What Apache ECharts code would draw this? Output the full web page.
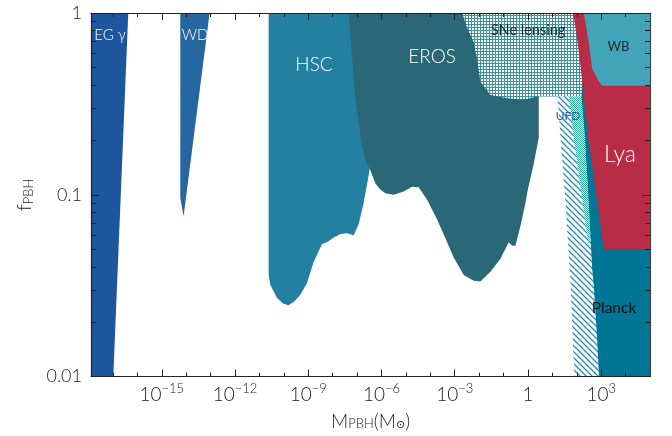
<!DOCTYPE html>
<html><head><meta charset="utf-8">
<script src="https://cdn.jsdelivr.net/npm/echarts@6/dist/echarts.min.js"></script>
<style>html,body{margin:0;padding:0;background:#fff}#c{width:672px;height:436px}</style>
</head><body><div id="c"></div>
<script>
// ---------- axis ranges and ticks (real units) ----------
const X_MIN = 1.26e-18, X_MAX = 1e5;
const Y_MIN = 0.01, Y_MAX = 1;
const xMajorTicks = [1e-15, 1e-12, 1e-9, 1e-6, 1e-3, 1, 1e3];
const xTickLabels = ['10^−15', '10^−12', '10^−9', '10^−6', '10^−3', '1', '10^3'];
const xMinorTicks = [1e-17, 1e-16, 1e-14, 1e-13, 1e-11, 1e-10, 1e-8, 1e-7, 1e-5, 1e-4, 1e-2, 1e-1, 10, 100, 1e4];
const yMajorTicks = [0.01, 0.1, 1];
const yTickLabels = ['0.01', '0.1', '1'];
const yMinorTicks = [0.02,0.03,0.04,0.05,0.06,0.07,0.08,0.09,0.2,0.3,0.4,0.5,0.6,0.7,0.8,0.9];

// ---------- constraint regions: [M_PBH (Msun), f_PBH] vertices ----------
const egGamma = [[1.26e-18,1],[4.24e-17,1],[1.03e-17,0.01],[1.26e-18,0.01]];
const whiteDwarf = [[5.73e-15,1],[9.1e-14,1],[7.82e-15,0.0763],[5.73e-15,0.0959]];
const hsc = [[2.38e-11,1],[2.38e-11,0.0362],[2.8e-11,0.0319],[5.26e-11,0.0271],[9.55e-11,0.0252],
  [1.57e-10,0.0247],[2.69e-10,0.0259],[4.74e-10,0.0282],[8.93e-10,0.0327],[1.66e-9,0.0427],
  [3.68e-9,0.0537],[5.89e-9,0.0548],[1.07e-8,0.058],[2.07e-8,0.0608],[3.89e-8,0.0615],
  [7.26e-8,0.06],[1.16e-7,0.0689],[1.86e-7,0.0901],[2.99e-7,0.128],[4.65e-7,0.182],[4.65e-7,1]];
const eros = [[4.53e-8,1],[5.84e-8,0.633],[8.51e-8,0.34],[1.6e-7,0.1824],[2.41e-7,0.1514],
  [3.51e-7,0.1365],[5.62e-7,0.1155],[9.02e-7,0.1068],[1.45e-6,0.102],[3.16e-6,0.1],
  [8.13e-6,0.1042],[1.8e-5,0.1109],[3.35e-5,0.11],[7.4e-5,0.0939],[1.9e-4,0.0732],
  [4.89e-4,0.0548],[9.1e-4,0.0452],[2.34e-3,0.0362],[6.01e-3,0.0337],[0.0113,0.0333],
  [0.029,0.0377],[0.0746,0.0445],[0.163,0.0548],[0.225,0.0525],[0.307,0.0525],[0.493,0.0674],
  [0.79,0.0901],[0.982,0.1064],[1.73,0.148],[2.77,0.2066],[2.77,0.347],[2.77,1]];
const sneLensing = [[2.01e-3,1],[3.22e-3,0.83],[6.01e-3,0.688],[8.28e-3,0.559],[0.0113,0.418],
  [0.029,0.354],[0.141,0.34],[0.673,0.333],[2.38,0.347],[364,0.347],[364,1]];
const ufd = [[16.2,0.347],[250,0.347],[813,0.01],[80.5,0.01],[64.8,0.0194],[55.2,0.0337],
  [34.4,0.0901],[21.5,0.2066]];
const dotted = [[47,0.347],[188,0.347],[364,0.0618],[302,0.0525],[142,0.111],[75.3,0.2066]];
const planck = [[207,1],[1e5,1],[1e5,0.01],[813,0.01],[686,0.01577],[498,0.0319],[428,0.0393],
  [310,0.0901],[217,0.2066],[156,0.347]];
const lya = [[71.1,1],[1e5,1],[1e5,0.0504],[1280,0.0504],[798,0.0795],[498,0.1256],[310,0.194],
  [194,0.34],[142,0.5145],[104,0.717]];
const wideBinaries = [[194,1],[1e5,1],[1e5,0.398],[1099,0.398],[686,0.436],[428,0.494],[364,0.583],[267,0.78]];

// ---------- styling ----------
const FONT = "Lato, 'Noto Sans', 'DejaVu Sans', sans-serif";
const FW = 300;
const L = Math.log10;

function makePattern(size, draw) {
  const c = document.createElement('canvas');
  c.width = size; c.height = size;
  const g = c.getContext('2d');
  g.fillStyle = '#fff'; g.fillRect(0, 0, size, size);
  draw(g);
  return { image: c, repeat: 'repeat' };
}
const gridPattern = makePattern(3, g => { g.fillStyle = 'rgb(60,145,155)'; g.fillRect(0,0,3,1); g.fillRect(0,0,1,3); });
const hatchPattern = makePattern(6, g => {
  g.strokeStyle = 'rgb(40,140,180)'; g.lineWidth = 1.3;
  g.beginPath(); g.moveTo(-1,-1); g.lineTo(7,7); g.moveTo(-1,5); g.lineTo(1,7); g.moveTo(5,-1); g.lineTo(7,1); g.stroke();
});
const dotPattern = makePattern(2, g => { g.fillStyle = 'rgb(40,175,150)'; g.fillRect(0,0,1,1); g.fillRect(1,1,1,1); });

function region(pts, fill) {
  const lp = pts.map(p => [L(p[0]), L(p[1])]);
  return {
    type: 'custom', coordinateSystem: 'cartesian2d', xAxisIndex: 0, yAxisIndex: 0,
    silent: true, animation: false, z: 2, data: [lp[0]],
    renderItem: (params, api) => ({
      type: 'polygon',
      shape: { points: lp.map(q => api.coord(q)) },
      style: { fill: fill, stroke: null }
    })
  };
}

const tickColor = '#222';
function xLabel(v) {
  const i = xMajorTicks.findIndex(t => Math.abs(L(t) - v) < 1e-6);
  if (i < 0) return '';
  const s = xTickLabels[i];
  if (s.indexOf('^') < 0) return '{b|' + s + '}';
  const parts = s.split('^');
  return '{b|' + parts[0] + '}{s|' + parts[1] + '}';
}
function yLabel(v) {
  const i = yMajorTicks.findIndex(t => Math.abs(L(t) - v) < 1e-6);
  return i < 0 ? '' : yTickLabels[i];
}
const hidden = { show: false, onZero: false };
const xr = { type: 'value', z: 20, min: L(X_MIN), max: L(X_MAX), splitLine: { show: false },
  axisLine: hidden, axisTick: { show: false }, axisLabel: { show: false } };
const yr = { type: 'value', z: 20, min: L(Y_MIN), max: L(Y_MAX), splitLine: { show: false },
  axisLine: hidden, axisTick: { show: false }, axisLabel: { show: false } };
const lineSt = { color: tickColor, width: 1.2 };
const tickSt = { color: tickColor, width: 1 };

const option = {
  animation: false,
  grid: { left: 91, top: 13, width: 559, height: 370, containLabel: false },
  xAxis: [
    Object.assign({}, xr, {
      position: 'bottom',
      axisLine: { show: true, onZero: false, lineStyle: lineSt },
      axisTick: { show: true, inside: true, length: 7, customValues: xMajorTicks.map(L), lineStyle: tickSt },
      axisLabel: { show: true, customValues: xMajorTicks.map(L), formatter: xLabel, margin: 6,
        rich: { b: { fontSize: 19, fontFamily: FONT, fontWeight: FW, color: tickColor, lineHeight: 24 },
                s: { fontSize: 13, fontFamily: FONT, fontWeight: FW, color: tickColor, lineHeight: 12, padding: [0, 0, 12, 0] } } },
      name: '{m|M}{s|PBH}{m|(M}{o|⊙}{m|)}', nameLocation: 'middle', nameGap: 28,
      nameTextStyle: { rich: {
        m: { fontSize: 19, fontFamily: FONT, fontWeight: FW, color: tickColor },
        s: { fontSize: 13, fontFamily: FONT, fontWeight: FW, color: tickColor, padding: [5, 0, 0, 0] },
        o: { fontSize: 11, fontFamily: "'DejaVu Sans', sans-serif", color: tickColor, padding: [7, 0, 0, 0] } } }
    }),
    Object.assign({}, xr, { position: 'bottom',
      axisTick: { show: true, inside: true, length: 4, customValues: xMinorTicks.map(L), lineStyle: tickSt } }),
    Object.assign({}, xr, { position: 'top',
      axisLine: { show: true, onZero: false, lineStyle: lineSt },
      axisTick: { show: true, inside: true, length: 7, customValues: xMajorTicks.map(L), lineStyle: tickSt } }),
    Object.assign({}, xr, { position: 'top',
      axisTick: { show: true, inside: true, length: 4, customValues: xMinorTicks.map(L), lineStyle: tickSt } })
  ],
  yAxis: [
    Object.assign({}, yr, {
      position: 'left',
      axisLine: { show: true, onZero: false, lineStyle: lineSt },
      axisTick: { show: true, inside: true, length: 8, customValues: yMajorTicks.map(L), lineStyle: tickSt },
      axisLabel: { show: true, customValues: yMajorTicks.map(L), formatter: yLabel, margin: 9,
        fontSize: 18, fontFamily: FONT, fontWeight: FW, color: tickColor },
      name: '{f|f}{s|PBH}', nameLocation: 'middle', nameGap: 56, nameRotate: 90,
      nameTextStyle: { rich: {
        f: { fontSize: 20, fontFamily: FONT, fontWeight: FW, color: tickColor },
        s: { fontSize: 13, fontFamily: FONT, fontWeight: FW, color: tickColor, padding: [8, 0, 0, 0] } } }
    }),
    Object.assign({}, yr, { position: 'left',
      axisTick: { show: true, inside: true, length: 5, customValues: yMinorTicks.map(L), lineStyle: tickSt } }),
    Object.assign({}, yr, { position: 'right',
      axisLine: { show: true, onZero: false, lineStyle: { color: '#444', width: 1.2 } },
      axisTick: { show: true, inside: true, length: 8, customValues: yMajorTicks.map(L), lineStyle: tickSt } }),
    Object.assign({}, yr, { position: 'right',
      axisTick: { show: true, inside: true, length: 5, customValues: yMinorTicks.map(L), lineStyle: tickSt } })
  ],
  series: [
    region(egGamma, '#1e569e'),
    region(whiteDwarf, '#2666a0'),
    region(hsc, '#2380a0'),
    region(eros, '#2a6878'),
    region(sneLensing, gridPattern),
    region(ufd, hatchPattern),
    region(dotted, dotPattern),
    region(planck, '#007696'),
    region(lya, '#b92c46'),
    region(wideBinaries, '#43a3b9')
  ],
  graphic: [
    { t: 'EG γ', x: 110, y: 35, s: 15, c: '#fff', w: 300 },
    { t: 'WD', x: 195, y: 35, s: 15, c: '#fff', w: 300 },
    { t: 'HSC', x: 314, y: 65, s: 19, c: '#fff', w: 300 },
    { t: 'EROS', x: 432, y: 57, s: 19, c: '#fff', w: 300 },
    { t: 'SNe lensing', x: 528, y: 30, s: 14.5, c: '#1b2b30', w: 400 },
    { t: 'WB', x: 618.5, y: 47, s: 13, c: '#1b2b30', w: 400 },
    { t: 'UFD', x: 568, y: 116, s: 12, c: '#2a5fa8', w: 400 },
    { t: 'Lya', x: 620, y: 155, s: 23, c: '#fff', w: 300 },
    { t: 'Planck', x: 614, y: 308, s: 15.5, c: '#111', w: 400 }
  ].map(o => ({ type: 'text', x: o.x, y: o.y, z: 100, silent: true,
    style: { text: o.t, fill: o.c, font: o.w + ' ' + o.s + 'px ' + FONT, fontSize: o.s, fontFamily: FONT, fontWeight: o.w,
      textAlign: 'center', textVerticalAlign: 'middle', align: 'center', verticalAlign: 'middle' } }))
};
const chart = echarts.init(document.getElementById('c'), null, { renderer: 'canvas' });
chart.setOption(option);
</script></body></html>
